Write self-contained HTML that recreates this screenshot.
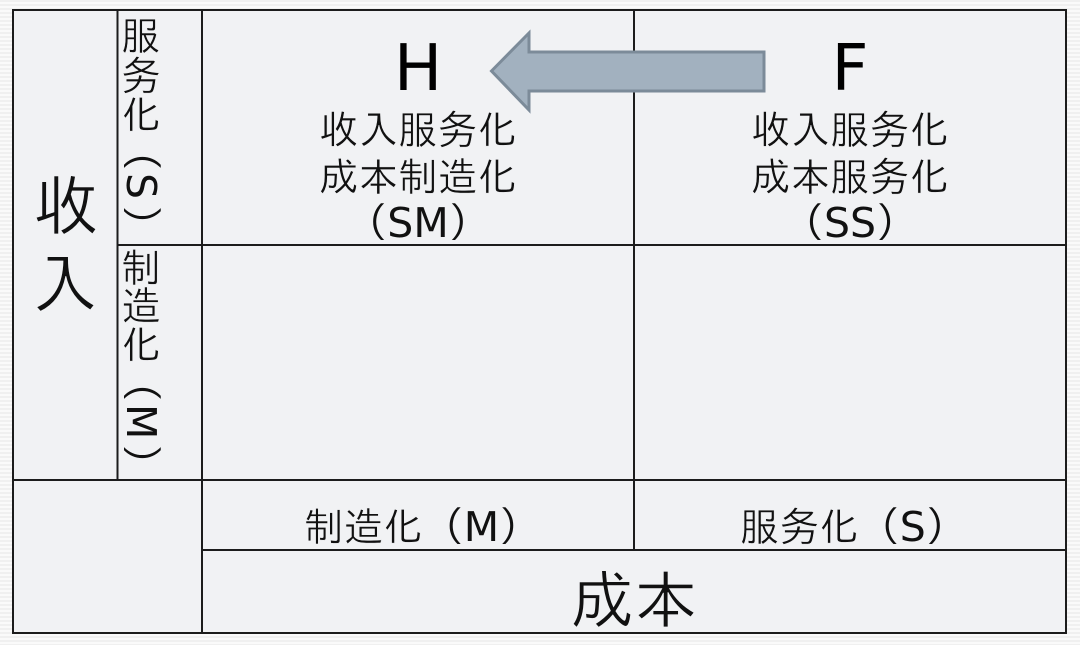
<!DOCTYPE html>
<html>
<head>
<meta charset="utf-8">
<style>
html,body{margin:0;padding:0;width:1080px;height:645px;overflow:hidden;background:#fff}
body{background:repeating-linear-gradient(to bottom,#f0f0f0 0,#f0f0f0 2px,#fafafa 2px,#fafafa 4px)}
svg{display:block;position:absolute;left:0;top:0}
text{fill:#111}
.c{font-family:"Liberation Sans","IPAGothic","WenQuanYi Zen Hei",sans-serif;font-size:39.6px;stroke:#f1f2f4;stroke-width:.5px}
.b{stroke-width:.8px}
.l{font-family:"DejaVu Sans","IPAGothic",sans-serif}
</style>
</head>
<body>
<svg width="1080" height="645" viewBox="0 0 1080 645" xmlns="http://www.w3.org/2000/svg">
<rect x="13" y="10" width="1053" height="623" fill="#f1f2f4"/>
<g stroke="#1c1c1c" stroke-width="2" fill="none">
<rect x="13" y="10" width="1053" height="623"/>
<line x1="117.5" y1="10" x2="117.5" y2="480"/>
<line x1="202" y1="10" x2="202" y2="633"/>
<line x1="634" y1="10" x2="634" y2="550"/>
<line x1="117" y1="245" x2="1066" y2="245"/>
<line x1="13" y1="480" x2="1066" y2="480"/>
<line x1="202" y1="550" x2="1066" y2="550"/>
</g>
<polygon points="491.5,71 529,33 529,52 764,52 764,91 529,91 529,110" fill="#a2b1bf" stroke="#7c8b99" stroke-width="3"/>

<text class="l" x="418" y="90" font-size="64" text-anchor="middle" style="fill:#000">H</text>
<text class="l" x="850" y="90" font-size="64" text-anchor="middle" style="fill:#000">F</text>

<text class="c" x="418" y="144" text-anchor="middle">收入服务化</text>
<text class="c" x="418" y="191" text-anchor="middle">成本制造化</text>
<text class="l" x="418" y="237" font-size="41" text-anchor="middle">（SM）</text>

<text class="c" x="850" y="144" text-anchor="middle">收入服务化</text>
<text class="c" x="850" y="191" text-anchor="middle">成本服务化</text>
<text class="l" x="850" y="237" font-size="41" text-anchor="middle">（SS）</text>

<text class="l" x="304" y="541" font-size="41"><tspan class="c">制造化</tspan>（M）</text>
<text class="l" x="740" y="541" font-size="41"><tspan class="c">服务化</tspan>（S）</text>

<text class="c b" x="634" y="623" text-anchor="middle" style="font-size:63.5px">成本</text>

<text class="c b" x="66" y="230" text-anchor="middle" style="font-size:66px">收</text>
<text class="c b" x="65" y="308" text-anchor="middle" style="font-size:66px">入</text>

<text class="c" x="141" y="50" text-anchor="middle">服</text>
<text class="c" x="141" y="90" text-anchor="middle">务</text>
<text class="c" x="141" y="129" text-anchor="middle">化</text>
<text class="l" transform="translate(127,173) rotate(90)" font-size="41" text-anchor="start">S</text>
<text class="l" transform="translate(127,130) rotate(90)" font-size="41">（</text>
<text class="l" transform="translate(127,205) rotate(90)" font-size="41">）</text>

<text class="c" x="141" y="282" text-anchor="middle">制</text>
<text class="c" x="141" y="320" text-anchor="middle">造</text>
<text class="c" x="141" y="359" text-anchor="middle">化</text>
<text class="l" transform="translate(127,404) rotate(90)" font-size="41" text-anchor="start">M</text>
<text class="l" transform="translate(127,361) rotate(90)" font-size="41">（</text>
<text class="l" transform="translate(127,444) rotate(90)" font-size="41">）</text>
</svg>
</body>
</html>
